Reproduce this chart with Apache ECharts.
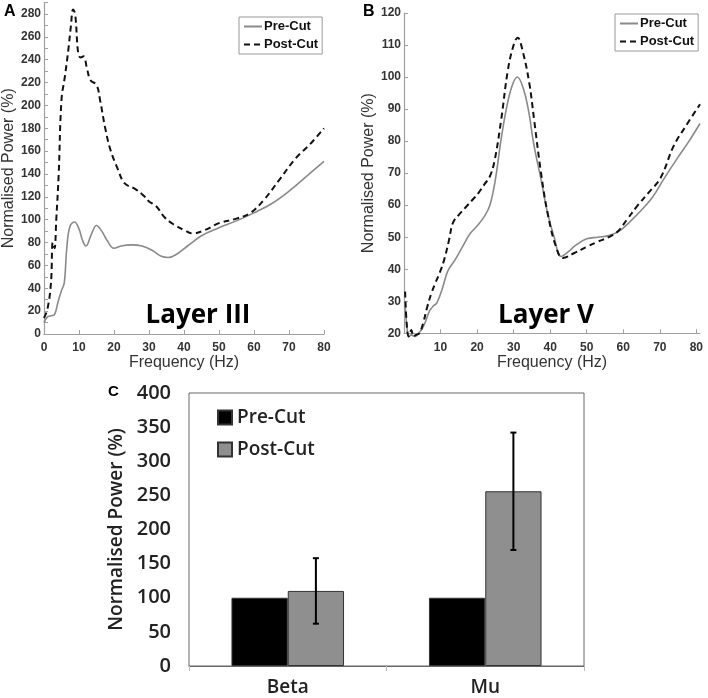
<!DOCTYPE html>
<html>
<head>
<meta charset="utf-8">
<script src="https://cdn.jsdelivr.net/npm/echarts@6/dist/echarts.min.js"></script>
<style>html,body{margin:0;padding:0;background:#fff}#c{width:708px;height:698px}</style>
</head>
<body>
<div id="c"></div>
<script>
// Panel A (Layer III)
const aPreFreq = [0,1,2,3,4,5,5.8,6.5,7.4,8.7,10,11,12,13.5,15,16.5,18,20,22,25,28,31,33.5,35.5,38,41,45,50,55,60,65,70,75,80];
const aPreVal  = [10,15,16,17,28,38,45,75,94,98,92,82,77,87,95,90,82,75,77,78,77,73,68,67,70,77,86,93,99,106,114,125,138,151];
const aPostFreq = [0,1,2,2.5,3,3.5,4.2,5,6,7,7.7,8.3,8.9,9.8,10.5,11.3,12.3,13.3,15,16,17.5,19,21,23,26,28.5,30,32,34.5,37,40,42.5,46,50,55,59,63,67,72,76,80];
const aPostVal  = [14,22,45,80,75,100,140,205,226,250,270,284,280,245,242,243,232,222,218,205,180,161,145,132,127,121,116,112,102,96,91,88,91,97,101,106,118,134,154,166,180];
// Panel B (Layer V)
const bPreFreq = [0.3,0.8,1.3,2,3,4,5,6,7,8,9,10.5,12,14,16,18,20,22,23.5,25,26.5,28,29.5,31,32.5,34,35.6,37.5,39.3,41.1,43,45,47,50,53,56,59,62,65,68,71,75,78,81];
const bPreVal  = [29,22,19,19.5,19,20,21.5,24,27,28.5,29.5,34,39.5,43,47,51,53.5,56.5,60,68,80,90,97,100,97,90,78.5,68,57.5,50,44,45.5,47.5,49.5,50,50.5,52,55,58.5,62.5,68,75,80,85.5];
const bPostFreq = [0.3,0.8,1.3,2,2.6,3.3,4.2,5.2,6.3,7.5,8.7,9.8,11,12.3,13.4,15,17,19,20.5,22,23.5,24.8,26.6,28.4,30,31.1,32.5,34.3,35.6,37.5,39.3,41.6,43.5,46.5,50,53,56,58.4,61,64,67,70.2,73.8,77,81];
const bPostVal  = [33,22,19,21,19,19.5,20,23,28,32.5,36,39,43,49,54.5,57,59.5,62,64,66.5,69,74,86.7,102,110,112.3,108,98,86.7,70,57.5,47,43.5,45,47,48.6,50,51.7,55.5,60,64,68.5,78.5,84.5,91.5];
// Panel C
const cCategories = ['Beta','Mu'];
const cPre = [100,100];
const cPost = [110,256];
const cPostErr = [48,86];

const zip = (xs, ys) => xs.map((x,i) => [x, ys[i]]);

const chart = echarts.init(document.getElementById('c'), null, {renderer:'canvas'});
const lblA = {fontFamily:'Liberation Sans, Arial', fontWeight:'bold', fontSize:12, color:'#333'};
const axisLineGray = {show:true, lineStyle:{color:'#a0a0a0', width:1.2}};
const tickIn = {show:true, inside:true, length:4, lineStyle:{color:'#a0a0a0'}};
const nameStyle = {fontFamily:'Liberation Sans, Arial', fontSize:16, color:'#333'};
const cFont = 'Open Sans, Noto Sans, sans-serif';

const preLine = {color:'#8a8a8a', width:1.6};
const postLine = {color:'#111', width:2, type:[6,4]};

const lineLegend = (left, top, names) => ({
  left, top, orient:'vertical', itemGap:5, itemWidth:18, itemHeight:12, padding:[3,4,3,4],
  borderColor:'#999', borderWidth:1, data:names, formatter:n => n.split(':')[1],
  itemStyle:{opacity:0, borderWidth:0},
  textStyle:{fontFamily:'Liberation Sans, Arial', fontWeight:'bold', fontSize:13, color:'#111', padding:[0,0,0,-3]}
});

const option = {
  animation:false,
  backgroundColor:'#fff',
  grid:[
    {left:44, right:384, top:2.6, bottom:364},
    {left:404, right:8, top:13, bottom:364.7},
    {left:189, right:124, top:393, bottom:32, show:true, borderColor:'#666', borderWidth:1}
  ],
  xAxis:[
    {gridIndex:0, type:'value', min:0, max:80, interval:10, axisLine:axisLineGray, axisTick:tickIn, splitLine:{show:false},
     axisLabel:Object.assign({margin:8}, lblA), name:'Frequency (Hz)', nameLocation:'middle', nameGap:21, nameTextStyle:nameStyle},
    {gridIndex:1, type:'value', min:0, max:81, interval:10, axisLine:axisLineGray, axisTick:tickIn, splitLine:{show:false},
     axisLabel:Object.assign({margin:8, showMinLabel:false, showMaxLabel:false}, lblA), name:'Frequency (Hz)', nameLocation:'middle', nameGap:21, nameTextStyle:nameStyle},
    {gridIndex:2, type:'category', data:cCategories, axisLine:{show:true, lineStyle:{color:'#666'}},
     axisTick:{show:true, length:5, lineStyle:{color:'#bbb'}},
     axisLabel:{fontFamily:cFont, fontWeight:600, fontSize:19, color:'#222', margin:12}}
  ],
  yAxis:[
    {gridIndex:0, type:'value', min:0, max:290, interval:10, axisLine:axisLineGray, axisTick:tickIn, splitLine:{show:false},
     axisLabel:Object.assign({margin:3, formatter:v => (v % 20 === 0 && v <= 280) ? String(v) : ''}, lblA),
     name:'Normalised Power (%)', nameLocation:'middle', nameGap:25, nameTextStyle:nameStyle},
    {gridIndex:1, type:'value', min:20, max:120, interval:10, axisLine:axisLineGray, axisTick:tickIn, splitLine:{show:false},
     axisLabel:Object.assign({margin:3}, lblA),
     name:'Normalised Power (%)', nameLocation:'middle', nameGap:24, nameTextStyle:nameStyle},
    {gridIndex:2, type:'value', min:0, max:400, interval:50, axisLine:{show:false}, axisTick:{show:false}, splitLine:{show:false},
     axisLabel:{fontFamily:cFont, fontWeight:600, fontSize:20, color:'#222', margin:18},
     name:'Normalised Power (%)', nameLocation:'middle', nameGap:52, nameTextStyle:{fontFamily:cFont, fontWeight:600, fontSize:19, color:'#222'}}
  ],
  legend:[
    lineLegend(239, 17, ['A:Pre-Cut','A:Post-Cut']),
    lineLegend(615, 14, ['B:Pre-Cut','B:Post-Cut']),
    {left:212, top:403, orient:'vertical', itemGap:13, itemWidth:14, itemHeight:14, icon:'rect',
     data:['C:Pre-Cut','C:Post-Cut'], formatter:n => n.split(':')[1],
     textStyle:{fontFamily:cFont, fontWeight:600, fontSize:19, color:'#222'}}
  ],
  series:[
    {name:'A:Pre-Cut', type:'line', xAxisIndex:0, yAxisIndex:0, data:zip(aPreFreq,aPreVal), smooth:0.4, symbol:'none', showSymbol:false, lineStyle:preLine, itemStyle:{color:'#8a8a8a'}, clip:false},
    {name:'A:Post-Cut', type:'line', xAxisIndex:0, yAxisIndex:0, data:zip(aPostFreq,aPostVal), smooth:0.4, symbol:'none', showSymbol:false, lineStyle:postLine, itemStyle:{color:'#111'}, clip:false},
    {name:'B:Pre-Cut', type:'line', xAxisIndex:1, yAxisIndex:1, data:zip(bPreFreq,bPreVal), smooth:0.4, symbol:'none', showSymbol:false, lineStyle:preLine, itemStyle:{color:'#8a8a8a'}, clip:false},
    {name:'B:Post-Cut', type:'line', xAxisIndex:1, yAxisIndex:1, data:zip(bPostFreq,bPostVal), smooth:0.4, symbol:'none', showSymbol:false, lineStyle:postLine, itemStyle:{color:'#111'}, clip:false},
    {name:'C:Pre-Cut', type:'bar', xAxisIndex:2, yAxisIndex:2, data:cPre, barWidth:'28.5%', barGap:'0%',
     itemStyle:{color:'#000', borderColor:'#333', borderWidth:1}},
    {name:'C:Post-Cut', type:'bar', xAxisIndex:2, yAxisIndex:2, data:cPost, barWidth:'28.5%', barGap:'0%',
     itemStyle:{color:'#8f8f8f', borderColor:'#333', borderWidth:1}},
    {name:'err', type:'custom', xAxisIndex:2, yAxisIndex:2, z:10,
     data:cCategories.map((c,i) => [i, cPost[i]-cPostErr[i], cPost[i]+cPostErr[i]]),
     renderItem:(params, api) => {
       const i = api.value(0);
       const lo = api.coord([i, api.value(1)]);
       const hi = api.coord([i, api.value(2)]);
       const band = api.size([1,0])[0];
       const x = lo[0] + band*0.1425;
       const cap = 3;
       const st = {stroke:'#000', lineWidth:2};
       return {type:'group', children:[
         {type:'line', shape:{x1:x, y1:lo[1], x2:x, y2:hi[1]}, style:st},
         {type:'line', shape:{x1:x-cap, y1:lo[1], x2:x+cap, y2:lo[1]}, style:st},
         {type:'line', shape:{x1:x-cap, y1:hi[1], x2:x+cap, y2:hi[1]}, style:st}
       ]};
     }}
  ],
  graphic:[
    {type:'text', left:4, top:4, style:{text:'A', font:'bold 16px Liberation Sans, Arial', fill:'#000'}},
    {type:'text', left:363, top:4, style:{text:'B', font:'bold 16px Liberation Sans, Arial', fill:'#000'}},
    {type:'text', left:108, top:384, style:{text:'C', font:'bold 15px Liberation Sans, Arial', fill:'#000'}},
    {type:'text', x:198, y:316, style:{text:'Layer III', font:'bold 26px Open Sans', fill:'#000', textAlign:'center', textVerticalAlign:'middle'}},
    {type:'text', x:546, y:316, style:{text:'Layer V', font:'bold 26px Open Sans', fill:'#000', textAlign:'center', textVerticalAlign:'middle'}}
  ]
};
chart.setOption(option);
</script>
</body>
</html>
